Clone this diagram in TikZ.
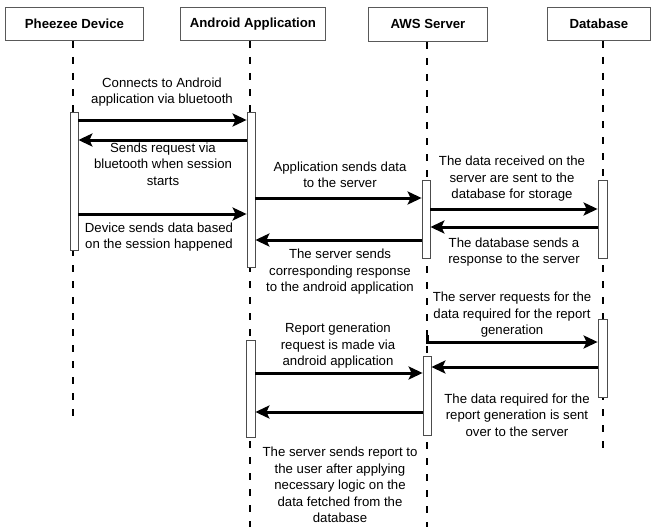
\documentclass[tikz,border=0pt]{standalone}
\usepackage{fontspec}
\setmainfont{Liberation Sans}
\usetikzlibrary{arrows.meta}
\begin{document}
\begin{tikzpicture}[x=1pt,y=-1pt,
  head/.style={draw=black!65,line width=0.9pt,fill=white,inner sep=0pt,font=\fontsize{13.2}{16}\selectfont\bfseries},
  lifeline/.style={line width=1.8pt,dash pattern=on 7pt off 9pt},
  actbar/.style={draw=black!70,line width=0.8pt,fill=white},
  msg/.style={line width=3pt,-{Stealth[length=14pt,width=13pt,inset=3pt]}},
  lbl/.style={align=center,inner sep=0pt,font=\fontsize{13.2}{16.5}\selectfont}]
\useasboundingbox (0,0) rectangle (653,527);
% headers
\node[head,minimum width=138pt,minimum height=33pt,anchor=north west] (h1) at (5,7) {Pheezee Device};
\node[head,minimum width=145pt,minimum height=33pt,anchor=north west] (h2) at (180,7) {Android Application};
\node[head,minimum width=119pt,minimum height=34pt,anchor=north west] (h3) at (368,7) {AWS Server};
\node[head,minimum width=103pt,minimum height=33pt,anchor=north west] (h4) at (547,7) {Database};
% lifeline ends
\coordinate (e1) at (73,423);
\coordinate (e2) at (250,527);
\coordinate (e3) at (427,527);
\coordinate (e4) at (603,455);
\draw[lifeline] (73,41) -- (e1);
\draw[lifeline] (250,41) -- (e2);
\draw[lifeline] (427,42) -- (e3);
\draw[lifeline] (603,41) -- (e4);
% activation bars
\node[actbar,minimum width=8pt,minimum height=138pt,inner sep=0pt,anchor=north] (a1) at (74,112) {};
\node[actbar,minimum width=8pt,minimum height=155pt,inner sep=0pt,anchor=north] (b1) at (251,112) {};
\node[actbar,minimum width=8pt,minimum height=78pt,inner sep=0pt,anchor=north] (c1) at (426,180) {};
\node[actbar,minimum width=9pt,minimum height=78pt,inner sep=0pt,anchor=north] (d1) at (602.5,180) {};
\node[actbar,minimum width=9pt,minimum height=97pt,inner sep=0pt,anchor=north] (b2) at (250.5,340) {};
\node[actbar,minimum width=8pt,minimum height=79pt,inner sep=0pt,anchor=north] (c2) at (427,356) {};
\node[actbar,minimum width=9pt,minimum height=78pt,inner sep=0pt,anchor=north] (d2) at (602.5,319) {};
\coordinate (s8) at (427,335);
% messages
\draw[msg] (a1.east|-0,120) -- (b1.west|-0,120);
\draw[msg] (b1.west|-0,140) -- (a1.east|-0,140);
\draw[msg] (a1.east|-0,214) -- (b1.west|-0,214);
\draw[msg] (b1.east|-0,198) -- (c1.west|-0,198);
\draw[msg] (c1.west|-0,240) -- (b1.east|-0,240);
\draw[msg] (c1.east|-0,209) -- (d1.west|-0,209);
\draw[msg] (d1.west|-0,227) -- (c1.east|-0,227);
\draw[msg] (s8) -- (427,342) -- (d2.west|-0,342);
\draw[msg] (d2.west|-0,367) -- (c2.east|-0,367);
\draw[msg] (b2.east|-0,373) -- (c2.west|-0,373);
\draw[msg] (c2.west|-0,412) -- (b2.east|-0,412);
% labels
\node[lbl] (l1) at (162,92) {Connects to Android\\application via bluetooth};
\node[lbl] (l2) at (163,164) {Sends request via\\bluetooth when session\\starts};
\node[lbl] (l3) at (159,237) {Device sends data based\\on the session happened};
\node[lbl] (l4) at (340,175) {Application sends data\\to the server};
\node[lbl] (l5) at (340,272) {The server sends\\corresponding response\\to the android application};
\node[lbl] (l6) at (512,179) {The data received on the\\server are sent to the\\database for storage};
\node[lbl] (l7) at (514,252) {The database sends a\\response to the server};
\node[lbl] (l8) at (512,315) {The server requests for the\\data required for the report\\generation};
\node[lbl] (l9) at (517,415) {The data required for the\\report generation is sent\\over to the server};
\node[lbl] (l10) at (338,346) {Report generation\\request is made via\\android application};
\node[lbl] (l11) at (340,485) {The server sends report to\\the user after applying\\necessary logic on the\\data fetched from the\\database};
\end{tikzpicture}
\end{document}
